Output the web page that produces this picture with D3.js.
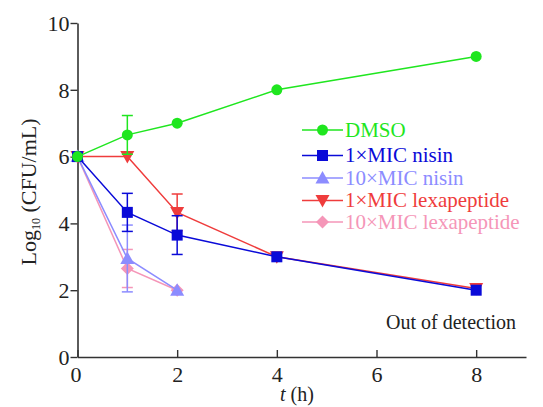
<!DOCTYPE html>
<html>
<head>
<meta charset="utf-8">
<script src="https://cdn.jsdelivr.net/npm/d3@7"></script>
<style>
  body { margin: 0; background: #fff; }
  svg { display: block; }
</style>
</head>
<body>
<div id="chart"></div>
<script>
// data
const times = [0, 1, 2, 4, 8]
const xTicks = [0, 2, 4, 6, 8]
const yTicks = [0, 2, 4, 6, 8, 10]

const seriesNames = ["DMSO", "1×MIC nisin", "10×MIC nisin", "1×MIC lexapeptide", "10×MIC lexapeptide"]
const seriesColors = ["#1fe61f", "#0a0ad8", "#8c8cff", "#ef3c3c", "#f596b8"]
const seriesShapes = ["circle", "square", "triangle", "triangleDown", "diamond"]

const dmsoValues = [6, 6.65, 7, 8, 9]
const dmsoErrors = [0, 0.58, 0, 0, 0]
const nisin1Values = [6, 4.33, 3.65, 3, 2]
const nisin1Errors = [0, 0.57, 0.58, 0, 0]
const nisin10Values = [6, 2.95, 2]
const nisin10Errors = [0, 1.0, 0]
const lexa1Values = [6, 6, 4.33, 3, 2.05]
const lexa1Errors = [0, 0, 0.55, 0, 0]
const lexa10Values = [6, 2.65, 2]
const lexa10Errors = [0, 0.57, 0]

const allValues = [dmsoValues, nisin1Values, nisin10Values, lexa1Values, lexa10Values]
const allErrors = [dmsoErrors, nisin1Errors, nisin10Errors, lexa1Errors, lexa10Errors]

const W = 543, H = 407
const svg = d3.select("#chart").append("svg").attr("width", W).attr("height", H)
const font = "'Liberation Serif', 'Times New Roman', serif"

const x = d3.scaleLinear([0, 9], [77.5, 526])
const y = d3.scaleLinear([0, 10], [357, 23])

// axes
const xAxis = svg.append("g").attr("transform", `translate(0,${y(0)})`)
  .call(d3.axisBottom(x).tickValues(xTicks).tickSize(-7).tickPadding(15).tickSizeOuter(0))
const yAxis = svg.append("g").attr("transform", `translate(${x(0)},0)`)
  .call(d3.axisLeft(y).tickValues(yTicks).tickSize(7).tickPadding(1).tickSizeOuter(0))
;[xAxis, yAxis].forEach(a => {
  a.attr("font-family", font)
  a.select(".domain").attr("stroke", "#333").attr("stroke-width", 1.6)
  a.selectAll(".tick line").attr("stroke", "#333").attr("stroke-width", 1.4)
  a.selectAll(".tick text").attr("font-family", font).attr("font-size", 22).attr("fill", "#222")
})
xAxis.selectAll(".tick text").attr("dy", "0.45em")
yAxis.selectAll(".tick text").attr("dy", "0.33em")
xAxis.selectAll(".tick").filter(d => d === 0).select("text").attr("x", -2)

// axis titles
const xt = svg.append("text").attr("x", 297).attr("y", 401).attr("text-anchor", "middle")
  .attr("font-family", font).attr("font-size", 20).attr("fill", "#222")
xt.append("tspan").attr("font-style", "italic").text("t")
xt.append("tspan").text(" (h)")

const yt = svg.append("text").attr("transform", "translate(36,192) rotate(-90)")
  .attr("text-anchor", "middle").attr("font-family", font).attr("font-size", 22).attr("fill", "#222")
yt.append("tspan").text("Log")
yt.append("tspan").attr("font-size", 12).attr("dy", 4).text("10")
yt.append("tspan").attr("dy", -4).text(" (CFU/mL)")

svg.append("text").attr("x", 516).attr("y", 329).attr("text-anchor", "end")
  .attr("font-family", font).attr("font-size", 20).attr("fill", "#222").text("Out of detection")

function drawMarker(g, shape, cx, cy, color) {
  if (shape === "circle") {
    g.append("circle").attr("cx", cx).attr("cy", cy).attr("r", 5.5).attr("fill", color)
  } else if (shape === "square") {
    g.append("rect").attr("x", cx - 5.5).attr("y", cy - 5.5).attr("width", 11).attr("height", 11).attr("fill", color)
  } else if (shape === "triangle") {
    g.append("path").attr("d", `M${cx},${cy - 7}L${cx + 7},${cy + 5.5}L${cx - 7},${cy + 5.5}Z`).attr("fill", color)
  } else if (shape === "triangleDown") {
    g.append("path").attr("d", `M${cx},${cy + 7}L${cx + 7},${cy - 5.5}L${cx - 7},${cy - 5.5}Z`).attr("fill", color)
  } else {
    g.append("path").attr("d", `M${cx},${cy - 6.5}L${cx + 6.5},${cy}L${cx},${cy + 6.5}L${cx - 6.5},${cy}Z`).attr("fill", color)
  }
}

const line = d3.line().x(d => x(d.t)).y(d => y(d.v))
// draw back-to-front so green and dark blue end up on top
const drawOrder = [4, 2, 3, 1, 0]
drawOrder.forEach(i => {
  const color = seriesColors[i]
  const pts = allValues[i].map((v, j) => ({ t: times[j], v: v, e: allErrors[i][j] }))
  const g = svg.append("g")
  g.append("path").datum(pts).attr("d", line).attr("fill", "none")
    .attr("stroke", color).attr("stroke-width", 1.5)
  pts.filter(p => p.e > 0).forEach(p => {
    const cx = x(p.t)
    g.append("line").attr("x1", cx).attr("x2", cx).attr("y1", y(p.v - p.e)).attr("y2", y(p.v + p.e))
      .attr("stroke", color).attr("stroke-width", 1.5)
    ;[p.v - p.e, p.v + p.e].forEach(v => {
      g.append("line").attr("x1", cx - 5.5).attr("x2", cx + 5.5).attr("y1", y(v)).attr("y2", y(v))
        .attr("stroke", color).attr("stroke-width", 1.5)
    })
  })
  pts.forEach(p => drawMarker(g, seriesShapes[i], x(p.t), y(p.v), color))
})

// legend (rows are not evenly spaced in the original)
const legendRows = [130, 155.5, 178, 200.5, 222]
const legend = svg.append("g")
seriesNames.forEach((name, i) => {
  const ly = legendRows[i]
  legend.append("line").attr("x1", 302).attr("x2", 343).attr("y1", ly).attr("y2", ly)
    .attr("stroke", seriesColors[i]).attr("stroke-width", 1.5)
  drawMarker(legend, seriesShapes[i], 322.5, ly, seriesColors[i])
  legend.append("text").attr("x", 345).attr("y", ly).attr("dy", "0.33em")
    .attr("font-family", font).attr("font-size", 21).attr("fill", seriesColors[i]).text(name)
})
</script>
</body>
</html>
